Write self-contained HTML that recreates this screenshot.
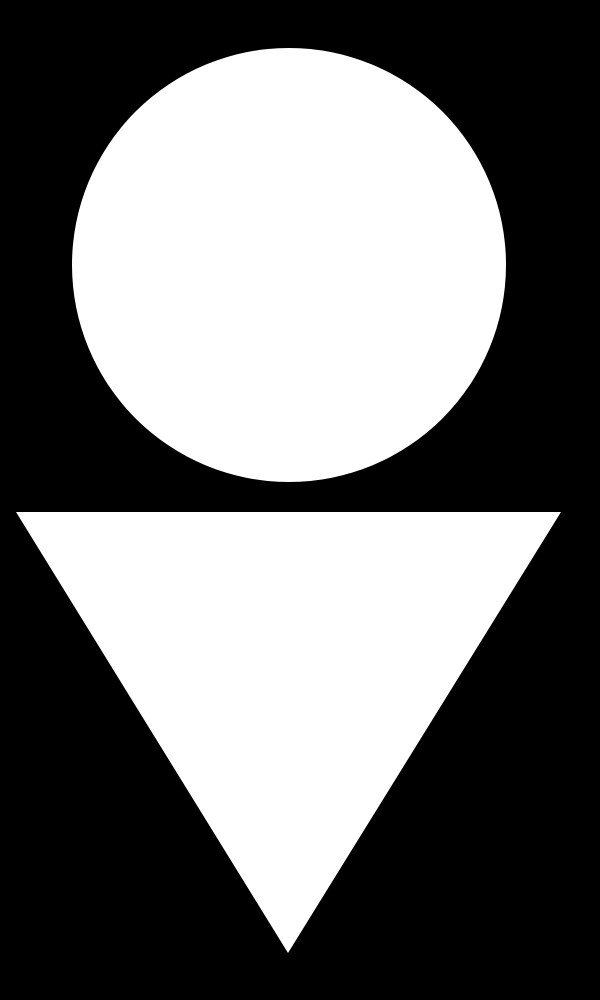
<!DOCTYPE html>
<html>
<head>
<meta charset="utf-8">
<style>
html,body{margin:0;padding:0;background:#000;}
svg{display:block;}
</style>
</head>
<body>
<svg width="600" height="1000" viewBox="0 0 600 1000">
  <rect x="0" y="0" width="600" height="1000" fill="#000"/>
  <circle cx="289" cy="265" r="217" fill="#fff"/>
  <polygon points="16,512 561,512 288,953" fill="#fff"/>
</svg>
</body>
</html>
